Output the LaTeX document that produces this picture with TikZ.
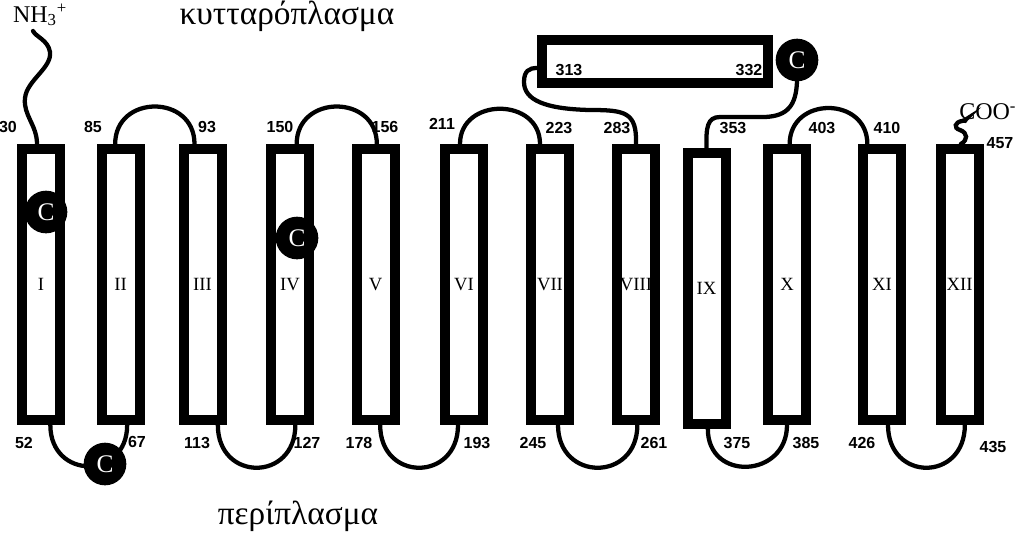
\documentclass[tikz,border=0pt]{standalone}
\usepackage{fontspec}
\setmainfont{Liberation Serif}
\setsansfont{Liberation Sans}
\usepackage{tikz}
\usetikzlibrary{calc}

\tikzset{
  helix/.style={draw, fill=white, line width=7.5pt, inner sep=0pt,
    minimum width=28.5pt, minimum height=203.25pt,
    font=\fontsize{14}{14}\selectfont},
  cysnode/.style={circle, fill=black, text=white, inner sep=0pt,
    minimum size=32pt, font=\fontsize{19}{19}\selectfont},
  linker/.style={line width=3.2pt, line cap=round},
  numlbl/.style={inner sep=0.75pt, font=\sffamily\bfseries\fontsize{12}{12}\selectfont},
  sidelbl/.style={inner sep=0.75pt, font=\fontsize{25}{25}\selectfont},
  termlbl/.style={inner sep=0.75pt, font=\fontsize{18}{18}\selectfont}
}

\begin{document}
\begin{tikzpicture}[x=0.75pt,y=0.75pt,yscale=-1,xscale=1]
\useasboundingbox (0,0) rectangle (1023,537);

%Shape: Helices I - XII
\node [helix] (h1) at (41,284.5) {I};
\node [helix] (h2) at (120.5,284.5) {II};
\node [helix] (h3) at (202.5,284.5) {III};
\node [helix] (h4) at (290,284.5) {IV};
\node [helix] (h5) at (375.5,284.5) {V};
\node [helix] (h6) at (464,284.5) {VI};
\node [helix] (h7) at (550,284.5) {VII};
\node [helix] (h8) at (636,284.5) {VIII};
\node [helix] (h9) at (706.5,288.5) {IX};
\node [helix] (h10) at (787,284.5) {X};
\node [helix] (h11) at (882,284.5) {XI};
\node [helix] (h12) at (959.5,284.5) {XII};
%Shape: Amphipathic helix
\node [helix, minimum width=169.5pt, minimum height=32.25pt] (h0) at (655,61.5) {};

% Text Node
\node [termlbl] (nh) at (40,15) {NH\textsubscript{3}\textsuperscript{+}};
\node [termlbl, anchor=south west] (cooh) at (958,121) {COO\textsuperscript{-}};
\node [sidelbl] (cyto) at (287,16) {κυτταρόπλασμα};
\node [sidelbl] (peri) at (298,516) {περίπλασμα};

%Curve Lines: termini
\draw [linker] ([xshift=-3pt]h1.north) .. controls (37,125) and (23,115) .. (25,98) .. controls (27,80) and (52,68) .. (50,52) .. controls (48,40) and (36,37) .. ($(nh.south)+(-7,4)$);
\draw [linker] ([xshift=1pt]h12.north) .. controls (968,140) and (968,133) .. (960,130) .. controls (953,128) and (955,122) .. (962,121) .. controls (967,120) and (966,118) .. ($(cooh.south west)+(7,0)$);

%Curve Lines: cytoplasmic loops
\draw [linker] ([xshift=-4pt]h2.north) .. controls +(0,-50) and +(0,-50) .. ([xshift=-6pt]h3.north);
\draw [linker] ([xshift=5pt]h4.north) .. controls +(0,-50) and +(0,-50) .. ([xshift=1pt]h5.north);
\draw [linker] ([xshift=-3pt]h6.north) .. controls +(0,-47) and +(0,-47) .. ([xshift=-7.5pt]h7.north);
\draw [linker] ([xshift=2pt]h10.north) .. controls +(0,-48) and +(0,-48) .. ([xshift=-11pt]h11.north);

%Curve Lines: periplasmic loops
\draw [linker] ([xshift=7pt]h1.south) .. controls +(0,55) and +(0,55) .. ([xshift=5pt]h2.south);
\draw [linker] ([xshift=11.5pt]h3.south) .. controls +(0,57) and +(0,57) .. ([xshift=4pt]h4.south);
\draw [linker] ([xshift=3.5pt]h5.south) .. controls +(0,57) and +(0,57) .. ([xshift=-4.5pt]h6.south);
\draw [linker] ([xshift=6pt]h7.south) .. controls +(0,57) and +(0,57) .. ([xshift=1pt]h8.south);
\draw [linker] ([xshift=1pt]h9.south) .. controls +(0,53) and +(0,53) .. (h10.south);
\draw [linker] ([xshift=4.5pt]h11.south) .. controls +(0,57) and +(0,57) .. ([xshift=4pt]h12.south);

%Cysteines
\node [cysnode] (c1) at (46,212) {C};
\node [cysnode] (c2) at (105,464) {C};
\node [cysnode] (c4) at (297,238) {C};
\node [cysnode] (c3) at (797,60) {C};

%Curve Lines: VIII - amphipathic helix - IX
\draw [linker] (h8.north) .. controls (637,112) and (625,110) .. (590,110) .. controls (545,109) and (524,100) .. (524,82) .. controls (524,71) and (529,68) .. ($(h0.west)+(0,6.5)$);
\draw [linker] (c3.south) .. controls (796,105) and (788,116) .. (765,117) -- (720,117) .. controls (707,117) and (706,128) .. (h9.north);

% Text Node: residue numbers
\node [numlbl] (n30) at (8,127) {30};
\node [numlbl] (n85) at (93,127) {85};
\node [numlbl] (n93) at (207,127) {93};
\node [numlbl] (n150) at (280,127) {150};
\node [numlbl] (n156) at (385,127) {156};
\node [numlbl] (n211) at (442,124) {211};
\node [numlbl] (n223) at (559,128) {223};
\node [numlbl] (n283) at (617,128) {283};
\node [numlbl] (n353) at (733,128) {353};
\node [numlbl] (n403) at (822,128) {403};
\node [numlbl] (n410) at (887,128) {410};
\node [numlbl] (n457) at (1000,143) {457};
\node [numlbl] (n313) at (569,70) {313};
\node [numlbl] (n332) at (749,70) {332};
\node [numlbl] (n52) at (24,443) {52};
\node [numlbl] (n67) at (137,442) {67};
\node [numlbl] (n113) at (197,443) {113};
\node [numlbl] (n127) at (307,443) {127};
\node [numlbl] (n178) at (359,443) {178};
\node [numlbl] (n193) at (477,443) {193};
\node [numlbl] (n245) at (533,443) {245};
\node [numlbl] (n261) at (654,443) {261};
\node [numlbl] (n375) at (737,443) {375};
\node [numlbl] (n385) at (806,443) {385};
\node [numlbl] (n426) at (862,443) {426};
\node [numlbl] (n435) at (993,447) {435};

\end{tikzpicture}
\end{document}
